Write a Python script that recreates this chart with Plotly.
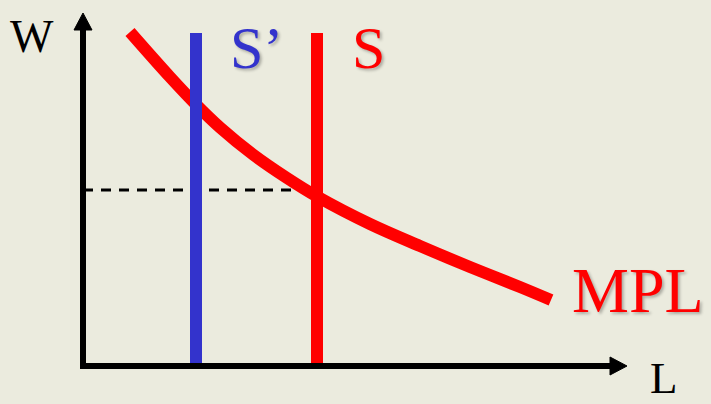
import plotly.graph_objects as go

# Data (economic units: labour L, wage W)
mpl_L = [0.94, 1.74, 2.26, 2.74, 3.40, 4.08, 4.68, 5.74, 6.74, 7.74, 8.74, 9.36]
mpl_W = [6.68, 5.78, 5.23, 4.77, 4.23, 3.76, 3.39, 2.84, 2.40, 1.98, 1.58, 1.32]
supply_L = 4.68          # S
supply_prime_L = 2.26    # S'
supply_W = [-0.06, 6.66]
equilibrium_W = 3.52

axis_y_end = 6.75
axis_x_end = 10.6
y_arrow_tip, y_arrow_base, arrow_half = 7.06, 6.72, 0.18
x_arrow_tip, x_arrow_base = 10.88, 10.54

BG = "#EBEBDE"
RED = "#FF0000"
BLUE = "#3333CC"
SERIF = "Liberation Serif"

fig = go.Figure()

fig.add_trace(go.Scatter(x=[0, supply_L], y=[equilibrium_W, equilibrium_W], mode="lines",
                         line=dict(color="black", width=3, dash="10px,8px"), hoverinfo="skip"))
fig.add_trace(go.Scatter(x=mpl_L, y=mpl_W, mode="lines",
                         line=dict(color=RED, width=12, shape="spline", smoothing=1.0),
                         hoverinfo="skip"))
fig.add_trace(go.Scatter(x=[supply_prime_L, supply_prime_L], y=supply_W, mode="lines",
                         line=dict(color=BLUE, width=12), hoverinfo="skip"))
fig.add_trace(go.Scatter(x=[supply_L, supply_L], y=supply_W, mode="lines",
                         line=dict(color=RED, width=12), hoverinfo="skip"))
fig.add_trace(go.Scatter(x=[0, 0], y=[-0.06, axis_y_end], mode="lines",
                         line=dict(color="black", width=6), hoverinfo="skip"))
fig.add_trace(go.Scatter(x=[-0.06, axis_x_end], y=[0, 0], mode="lines",
                         line=dict(color="black", width=6), hoverinfo="skip"))
fig.add_trace(go.Scatter(x=[-arrow_half, arrow_half, 0, -arrow_half],
                         y=[y_arrow_base, y_arrow_base, y_arrow_tip, y_arrow_base],
                         mode="lines", fill="toself", fillcolor="black",
                         line=dict(color="black", width=1), hoverinfo="skip"))
fig.add_trace(go.Scatter(x=[x_arrow_base, x_arrow_base, x_arrow_tip, x_arrow_base],
                         y=[-arrow_half, arrow_half, 0, -arrow_half],
                         mode="lines", fill="toself", fillcolor="black",
                         line=dict(color="black", width=1), hoverinfo="skip"))

shadow = "2px 2px 3px rgba(0,0,0,0.28)"
labels = [
    ("W", -1.02, 6.6, 46, "black", "none"),
    ("L", 11.62, -0.24, 45, "black", "none"),
    ("S\u2019", 3.46, 6.36, 60, BLUE, shadow),
    ("S", 5.7, 6.36, 60, RED, shadow),
    ("MPL", 11.1, 1.52, 64, RED, shadow),
]
for text, x, y, size, color, sh in labels:
    fig.add_annotation(x=x, y=y, text=text, showarrow=False, xanchor="center", yanchor="middle",
                       font=dict(family=SERIF, size=size, color=color, shadow=sh))

fig.update_layout(
    width=711, height=404, margin=dict(l=0, r=0, t=0, b=0),
    paper_bgcolor=BG, plot_bgcolor=BG, showlegend=False,
    font=dict(family=SERIF),
    xaxis=dict(range=[-1.66, 12.56], visible=False, fixedrange=True),
    yaxis=dict(range=[-0.76, 7.32], visible=False, fixedrange=True),
)

fig.write_html("out.html", config={"displayModeBar": False},
               post_script="document.body.style.margin='0';document.body.style.background='#EBEBDE';")
